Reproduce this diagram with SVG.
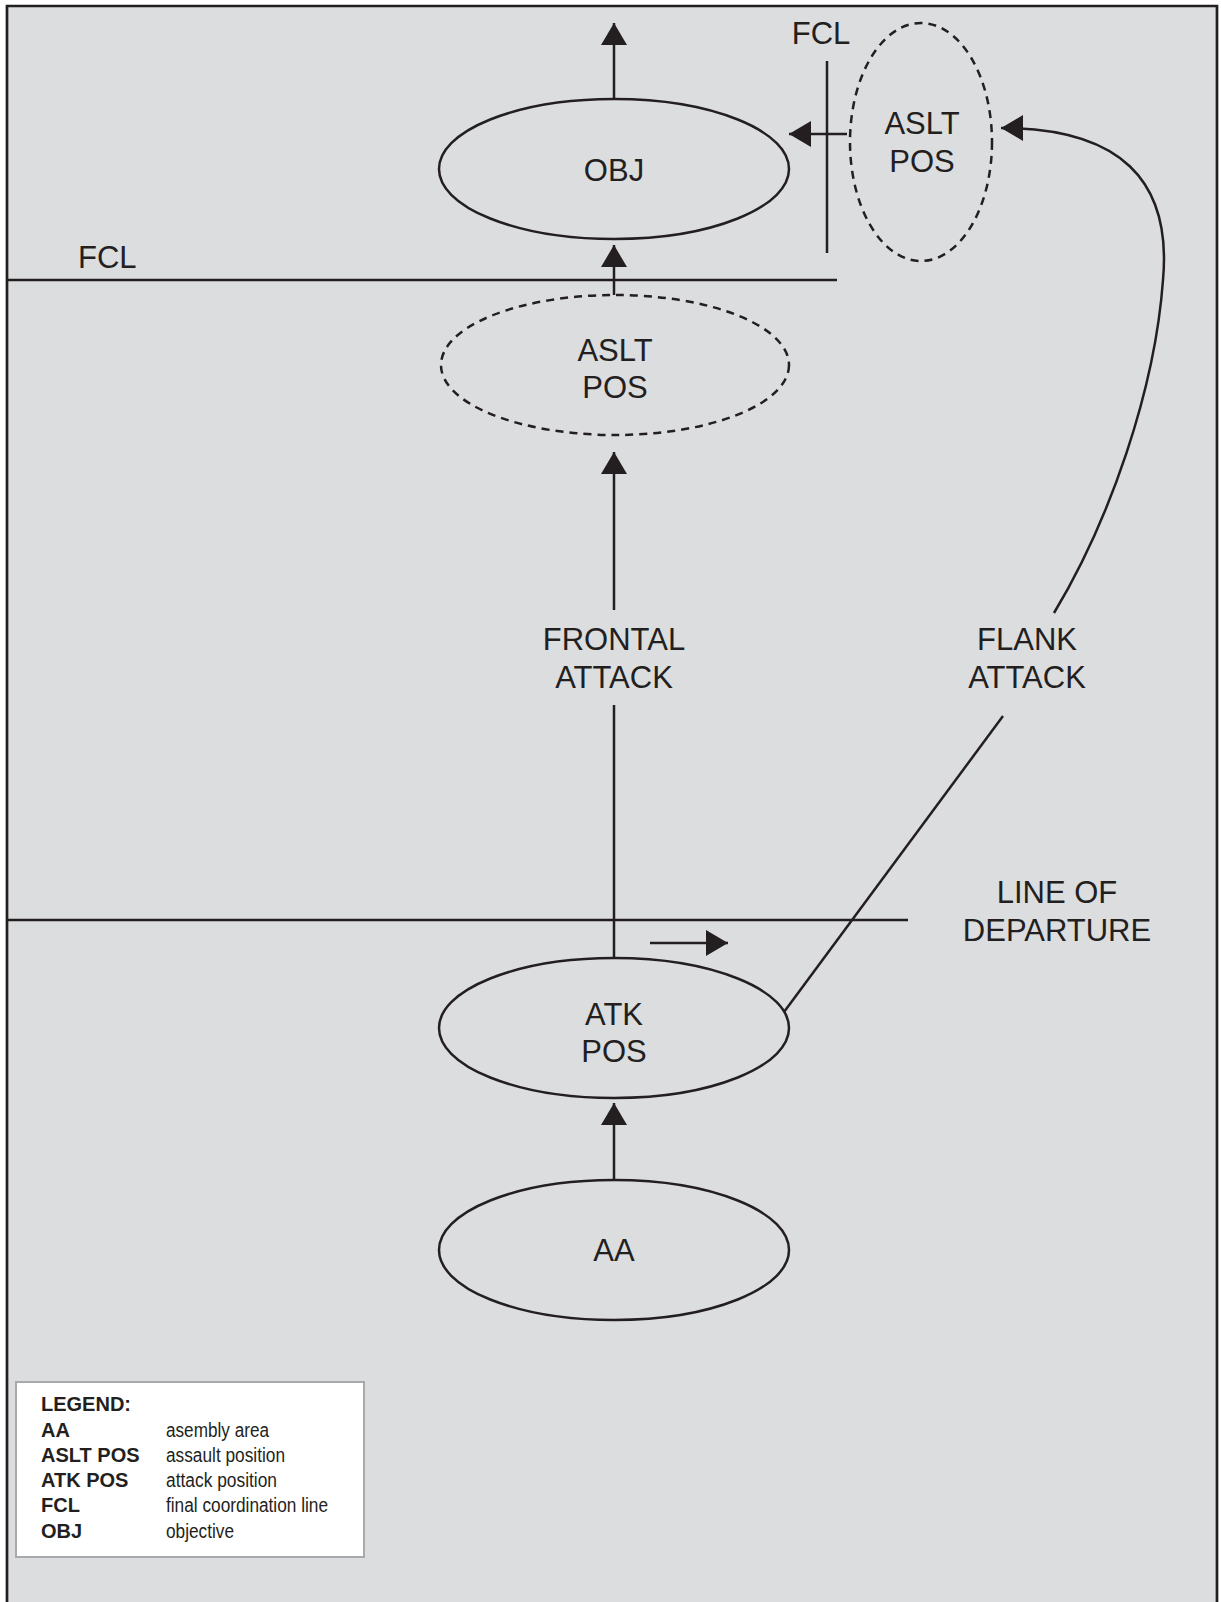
<svg xmlns="http://www.w3.org/2000/svg" width="1221" height="1602" viewBox="0 0 1221 1602">
<style>
.ln{stroke:#231f20;stroke-width:2.5;fill:none}
.node{stroke:#231f20;stroke-width:2.5;fill:none}
.dash{stroke:#231f20;stroke-width:2.5;fill:none;stroke-dasharray:8 6}
.t{font-family:"Liberation Sans",Arial,sans-serif;font-size:31px;fill:#231f20;text-anchor:middle}
.tl{font-family:"Liberation Sans",Arial,sans-serif;font-size:31px;fill:#231f20}
.lb{font-family:"Liberation Sans",Arial,sans-serif;font-size:20px;font-weight:bold;fill:#231f20}
.ld{font-family:"Liberation Sans",Arial,sans-serif;font-size:20px;fill:#231f20}
</style>
<defs>
<marker id="ah" viewBox="0 0 22 26" refX="22" refY="13" markerWidth="22" markerHeight="26" markerUnits="userSpaceOnUse" orient="auto">
<path d="M0,0 L22,13 L0,26 Z" fill="#231f20"/>
</marker>
</defs>
<rect width="1221" height="1602" fill="#ffffff"/>
<path d="M7,1610 V6 H1217 V1610 Z" fill="#dcdddf" stroke="#231f20" stroke-width="2.7"/>

<g id="fcl-lines">
<line class="ln" x1="7" y1="280" x2="837" y2="280"/>
<text class="tl" x="78" y="268">FCL</text>
<line class="ln" x1="827" y1="61" x2="827" y2="253"/>
<text class="t" x="821" y="44">FCL</text>
</g>
<g id="lod">
<line class="ln" x1="7" y1="920" x2="908" y2="920"/>
<text class="t" x="1057" y="903">LINE OF</text>
<text class="t" x="1057" y="941">DEPARTURE</text>
</g>

<g id="obj">
<ellipse class="node" cx="614" cy="169" rx="175" ry="70"/>
<text class="t" x="614" y="181">OBJ</text>
</g>
<g id="aslt-pos-center">
<ellipse class="dash" cx="615" cy="365" rx="174" ry="70"/>
<text class="t" x="615" y="361">ASLT</text>
<text class="t" x="615" y="398">POS</text>
</g>
<g id="aslt-pos-flank">
<ellipse class="dash" cx="921" cy="142" rx="71" ry="119"/>
<text class="t" x="922" y="134">ASLT</text>
<text class="t" x="922" y="172">POS</text>
</g>
<g id="atk-pos">
<ellipse class="node" cx="614" cy="1028" rx="175" ry="70"/>
<text class="t" x="614" y="1025">ATK</text>
<text class="t" x="614" y="1062">POS</text>
</g>
<g id="aa">
<ellipse class="node" cx="614" cy="1250" rx="175" ry="70"/>
<text class="t" x="614" y="1261">AA</text>
</g>

<g id="connectors">
<line class="ln" x1="614" y1="99" x2="614" y2="23" marker-end="url(#ah)"/>
<line class="ln" x1="614" y1="295" x2="614" y2="245" marker-end="url(#ah)"/>
<line class="ln" x1="614" y1="610" x2="614" y2="452" marker-end="url(#ah)"/>
<line class="ln" x1="614" y1="958" x2="614" y2="705"/>
<line class="ln" x1="614" y1="1180" x2="614" y2="1103" marker-end="url(#ah)"/>
<line class="ln" x1="847" y1="134" x2="789" y2="134" marker-end="url(#ah)"/>
<line class="ln" x1="650" y1="943" x2="728" y2="943" marker-end="url(#ah)"/>
<path class="ln" d="M784,1012 L1003,716"/>
<path class="ln" d="M1054,613 C1110,520 1155,390 1163,280 C1172,180 1120,128 1001,128" marker-end="url(#ah)"/>
<text class="t" x="614" y="650">FRONTAL</text>
<text class="t" x="614" y="688">ATTACK</text>
<text class="t" x="1027" y="650">FLANK</text>
<text class="t" x="1027" y="688">ATTACK</text>
</g>

<g id="legend">
<rect x="16" y="1382" width="348" height="175" fill="#ffffff" stroke="#a7a9ac" stroke-width="2"/>
<text class="lb" x="41" y="1411">LEGEND:</text>
<text class="lb" x="41" y="1437">AA</text>
<text class="lb" x="41" y="1462">ASLT POS</text>
<text class="lb" x="41" y="1487">ATK POS</text>
<text class="lb" x="41" y="1512">FCL</text>
<text class="lb" x="41" y="1538">OBJ</text>
<text class="ld" x="166" y="1437" textLength="103" lengthAdjust="spacingAndGlyphs">asembly area</text>
<text class="ld" x="166" y="1462" textLength="119" lengthAdjust="spacingAndGlyphs">assault position</text>
<text class="ld" x="166" y="1487" textLength="111" lengthAdjust="spacingAndGlyphs">attack position</text>
<text class="ld" x="166" y="1512" textLength="162" lengthAdjust="spacingAndGlyphs">final coordination line</text>
<text class="ld" x="166" y="1538" textLength="68" lengthAdjust="spacingAndGlyphs">objective</text>
</g>
</svg>
